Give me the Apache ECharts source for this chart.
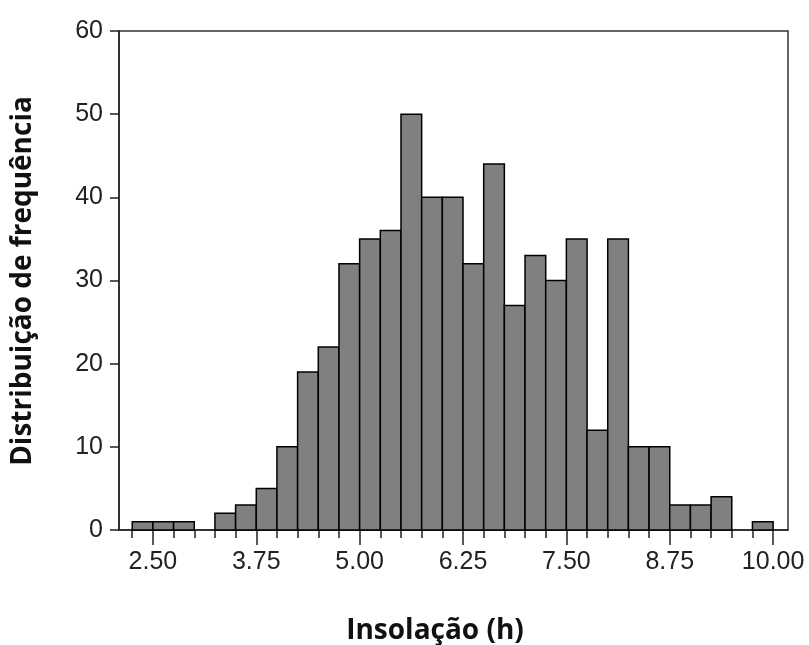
<!DOCTYPE html>
<html>
<head>
<meta charset="utf-8">
<script src="https://cdn.jsdelivr.net/npm/echarts@6/dist/echarts.min.js"></script>
<style>
  html, body { margin: 0; padding: 0; background: #fff; }
  #chart { width: 809px; height: 645px; }
</style>
</head>
<body>
<div id="chart"></div>
<script>
// inicio de cada classe (h), largura 0.25
const binStart = [2.25, 2.5, 2.75, 3.0, 3.25, 3.5, 3.75, 4.0, 4.25, 4.5, 4.75,
  5.0, 5.25, 5.5, 5.75, 6.0, 6.25, 6.5, 6.75, 7.0, 7.25, 7.5, 7.75,
  8.0, 8.25, 8.5, 8.75, 9.0, 9.25, 9.5, 9.75];
const counts = [1, 1, 1, 0, 2, 3, 5, 10, 19, 22, 32,
  35, 36, 50, 40, 40, 32, 44, 27, 33, 30, 35, 12,
  35, 10, 10, 3, 3, 4, 0, 1];
const binWidth = 0.25;
const xLabels = [2.5, 3.75, 5.0, 6.25, 7.5, 8.75, 10.0];
const xMinorTicks = [2.25, 2.5, 2.75, 3.0, 3.25, 3.5, 3.75, 4.0, 4.25, 4.5, 4.75,
  5.0, 5.25, 5.5, 5.75, 6.0, 6.25, 6.5, 6.75, 7.0, 7.25, 7.5, 7.75,
  8.0, 8.25, 8.5, 8.75, 9.0, 9.25, 9.5, 9.75, 10.0];

const labelFont = '"Liberation Sans", Arial, sans-serif';
const titleFont = '"Open Sans", sans-serif';

const chart = echarts.init(document.getElementById('chart'));

const barData = binStart.map((s, i) => [s, s + binWidth, counts[i]]);

const option = {
  backgroundColor: '#fff',
  animation: false,
  grid: {
    left: 119, right: 21, top: 31, bottom: 115,
    show: true, borderColor: '#333', borderWidth: 1.5, backgroundColor: 'transparent'
  },
  xAxis: [
    {
      type: 'value', min: 2.09, max: 10.18,
      splitLine: { show: false },
      axisLine: { lineStyle: { color: '#222', width: 1.5 } },
      axisTick: { customValues: xMinorTicks, length: 8, lineStyle: { color: '#222', width: 1.5 } },
      axisLabel: {
        customValues: xLabels, margin: 20,
        fontFamily: labelFont, fontSize: 25, color: '#222',
        formatter: v => v.toFixed(2)
      }
    },
    {
      type: 'value', min: 2.09, max: 10.18, position: 'bottom',
      splitLine: { show: false },
      axisLine: { show: false },
      axisTick: { customValues: xLabels, length: 15, lineStyle: { color: '#222', width: 1.5 } },
      axisLabel: { show: false }
    }
  ],
  yAxis: {
    type: 'value', min: 0, max: 60, interval: 10,
    splitLine: { show: false },
    axisLine: { show: true, lineStyle: { color: '#222', width: 1.5 } },
    axisTick: { show: true, length: 9, lineStyle: { color: '#222', width: 1.5 } },
    axisLabel: {
      margin: 16, fontFamily: labelFont, fontSize: 25, color: '#222'
    }
  },
  graphic: [
    {
      type: 'text', x: 435, y: 631,
      style: {
        text: 'Insolação (h)', fill: '#111', fontFamily: titleFont, fontWeight: 'bold',
        fontSize: 28, textAlign: 'center', textVerticalAlign: 'middle'
      }
    },
    {
      type: 'text', x: 23, y: 281, rotation: Math.PI / 2,
      style: {
        text: 'Distribuição de frequência', fill: '#111', fontFamily: titleFont, fontWeight: 'bold',
        fontSize: 28, textAlign: 'center', textVerticalAlign: 'middle'
      }
    }
  ],
  series: [{
    type: 'custom',
    xAxisIndex: 0,
    data: barData,
    renderItem: (params, api) => {
      if (api.value(2) <= 0) return null;
      const p0 = api.coord([api.value(0), api.value(2)]);
      const p1 = api.coord([api.value(1), 0]);
      return {
        type: 'rect',
        shape: { x: p0[0], y: p0[1], width: p1[0] - p0[0], height: p1[1] - p0[1] },
        style: { fill: '#808080', stroke: '#000', lineWidth: 1.5 }
      };
    }
  }]
};

chart.setOption(option);
</script>
</body>
</html>
